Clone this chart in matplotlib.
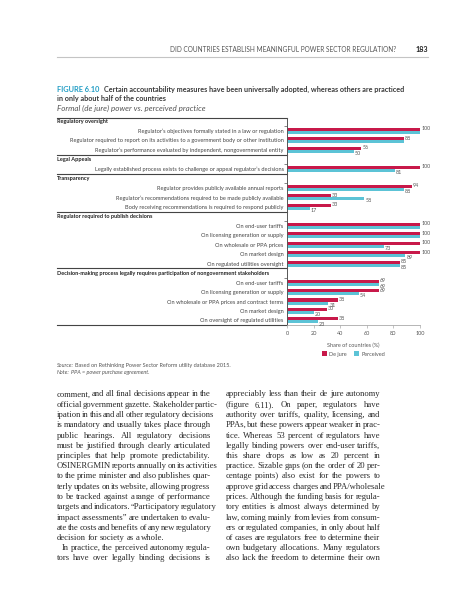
import numpy as np
import matplotlib
matplotlib.use("Agg")
import matplotlib.pyplot as plt
from matplotlib.transforms import blended_transform_factory

# data
group_names = [
    "Regulatory oversight",
    "Legal Appeals",
    "Transparency",
    "Regulator required to publish decisions",
    "Decision-making process legally requires participation of nongovernment stakeholders",
]
group_items = [
    ["Regulator’s objectives formally stated in a law or regulation",
     "Regulator required to report on its activities to a government body or other institution",
     "Regulator’s performance evaluated by independent, nongovernmental entity"],
    ["Legally established process exists to challenge or appeal regulator’s decisions"],
    ["Regulator provides publicly available annual reports",
     "Regulator’s recommendations required to be made publicly available",
     "Body receiving recommendations is required to respond publicly"],
    ["On end-user tariffs",
     "On licensing generation or supply",
     "On wholesale or PPA prices",
     "On market design",
     "On regulated utilities oversight"],
    ["On end-user tariffs",
     "On licensing generation or supply",
     "On wholesale or PPA prices and contract terms",
     "On market design",
     "On oversight of regulated utilities"],
]
de_jure = [100, 88, 56, 100, 94, 33, 33, 100, 100, 100, 100, 85, 69, 69, 38, 30, 38]
perceived = [100, 88, 50, 81, 88, 58, 17, 100, 100, 73, 89, 85, 69, 54, 31, 20, 23]
x_ticks = [0, 20, 40, 60, 80, 100]

left_col = [
    "comment, and all final decisions appear in the",
    "official government gazette. Stakeholder partic-",
    "ipation in this and all other regulatory decisions",
    "is mandatory and usually takes place through",
    "public hearings. All regulatory decisions",
    "must be justified through clearly articulated",
    "principles that help promote predictability.",
    "OSINERGMIN reports annually on its activities",
    "to the prime minister and also publishes quar-",
    "terly updates on its website, allowing progress",
    "to be tracked against a range of performance",
    "targets and indicators. “Participatory regulatory",
    "impact assessments” are undertaken to evalu-",
    "ate the costs and benefits of any new regulatory",
    "decision for society as a whole.",
    "In practice, the perceived autonomy regula-",
    "tors have over legally binding decisions is",
]
right_col = [
    "appreciably less than their de jure autonomy",
    "(figure 6.11). On paper, regulators have",
    "authority over tariffs, quality, licensing, and",
    "PPAs, but these powers appear weaker in prac-",
    "tice. Whereas 53 percent of regulators have",
    "legally binding powers over end-user tariffs,",
    "this share drops as low as 20 percent in",
    "practice. Sizable gaps (on the order of 20 per-",
    "centage points) also exist for the powers to",
    "approve grid access charges and PPA/wholesale",
    "prices. Although the funding basis for regula-",
    "tory entities is almost always determined by",
    "law, coming mainly from levies from consum-",
    "ers or regulated companies, in only about half",
    "of cases are regulators free to determine their",
    "own budgetary allocations. Many regulators",
    "also lack the freedom to determine their own",
]

RED = "#c8194a"
CYAN = "#5cc3d6"
TEAL = "#1f9cc4"
DARK = "#3a3a3a"
GREY = "#555555"
SANS = ["Lato", "DejaVu Sans"]
SERIF = ["Liberation Serif", "DejaVu Serif"]

W, H = 457, 600
fig = plt.figure(figsize=(W / 100, H / 100), dpi=100)
page = fig.add_axes([0, 0, 1, 1])
page.set_xlim(0, W)
page.set_ylim(H, 0)
page.axis("off")
renderer = fig.canvas.get_renderer()


def put(x, y, s, **kw):
    kw.setdefault("family", SANS)
    kw.setdefault("va", "baseline")
    return page.text(x, y, s, **kw)


def width(t):
    return t.get_window_extent(renderer).width


# running header
put(396, 52.3, "DID COUNTRIES ESTABLISH MEANINGFUL POWER SECTOR REGULATION?",
    fontsize=4.7, color=GREY, ha="right")
put(428, 52.5, "183", fontsize=5.2, color="#222", ha="right", fontweight="bold")
page.plot([57, 428], [56.7, 56.7], color="#c4c4c4", lw=0.8)

# figure title
put(57, 91.5, "FIGURE 6.10", fontsize=5.3, color=TEAL, fontweight="bold")
put(104.3, 91.5, "Certain accountability measures have been universally adopted, whereas others are practiced",
    fontsize=5.2, color=DARK, fontweight="bold")
put(57, 100.5, "in only about half of the countries", fontsize=5.2, color=DARK, fontweight="bold")
put(57, 110.7, "Formal (de jure) power vs. perceived practice", fontsize=5.8, color=GREY, style="italic")

# chart
slots, labels, header_slots = [], [], []
s = 0
for name, items in zip(group_names, group_items):
    header_slots.append(s)
    s += 1
    for it in items:
        slots.append(s)
        labels.append(it)
        s += 1
slots = np.array(slots)
y_top, y_bot = -0.37, s - 0.5

ax = fig.add_axes([287 / W, 1 - 325.2 / H, 133 / W, 207.2 / H])
bh = 0.32
ax.barh(slots - bh / 2, de_jure, height=bh, color=RED, label="De jure")
ax.barh(slots + bh / 2, perceived, height=bh, color=CYAN, label="Perceived")
ax.set_xlim(0, 100)
ax.set_ylim(y_bot, y_top)

for sp in ["top", "right"]:
    ax.spines[sp].set_visible(False)
ax.spines["left"].set_color(GREY)
ax.spines["left"].set_linewidth(0.7)
ax.spines["bottom"].set_color("#aaaaaa")
ax.spines["bottom"].set_linewidth(0.6)

ax.set_yticks(slots)
ax.set_yticklabels(labels, fontsize=4.1, color="#444", family=SANS)
ax.tick_params(axis="y", length=0, pad=2.5)
ax.set_yticks([h + 0.5 for h in header_slots], minor=True)
ax.tick_params(axis="y", which="minor", length=2, width=0.5, color=GREY)

ax.set_xticks(x_ticks)
ax.set_xticklabels([str(v) for v in x_ticks], fontsize=4.0, color=GREY, family=SANS)
ax.tick_params(axis="x", length=2, width=0.5, color="#aaaaaa", pad=2)
ax.set_xlabel("Share of countries (%)", fontsize=4.0, color=GREY, family=SANS, labelpad=5)

trans = blended_transform_factory(ax.transAxes, ax.transData)
x_left = (57 - 287) / 133
for h, name in zip(header_slots, group_names):
    yl = y_top if h == 0 else h - 0.5
    ax.plot([x_left, 0], [yl, yl], transform=trans, clip_on=False, color="#444", lw=0.8)
    ax.text(x_left, h, name, transform=trans, ha="left", va="center", fontsize=4.0,
            fontweight="bold", color="#222", family=SANS)
ax.plot([x_left, 0], [y_bot, y_bot], transform=trans, clip_on=False, color="#444", lw=0.8)

for y, d, p in zip(slots, de_jure, perceived):
    ax.text(d + 0.8, y - bh / 2 - 0.05, str(d), va="center", ha="left", fontsize=3.9,
            color=GREY, family=SANS)
    if not (p == d and d >= 88):
        ax.text(p + 0.8, y + bh / 2 + 0.22, str(p), va="center", ha="left", fontsize=3.9,
                color=GREY, family=SANS)

ax.legend(loc="center", bbox_to_anchor=(0.5, -0.139), ncol=2, frameon=False,
          prop={"family": SANS, "size": 4.0}, handlelength=0.9, handleheight=0.9,
          columnspacing=1.2, handletextpad=0.5, labelcolor=GREY)

# source and note
t = put(57, 366.8, "Source:", fontsize=4.0, color=GREY, style="italic")
put(57 + width(t) + 1.5, 366.8, "Based on Rethinking Power Sector Reform utility database 2015.",
    fontsize=4.0, color=GREY)
t = put(57, 373.8, "Note:", fontsize=4.0, color=GREY, style="italic")
put(57 + width(t) + 1.5, 373.8, "PPA = power purchase agreement.", fontsize=4.0, color=GREY,
    style="italic")


# body text, justified columns
def column(lines, x0, x1, y0, dy, loose=(), indent=()):
    for i, line in enumerate(lines):
        y = y0 + i * dy
        start = x0 + (5.5 if i in indent else 0)
        words = line.split(" ")
        ts = [put(0, y, w, fontsize=6.2, color="#2a2a2a", family=SERIF) for w in words]
        ws = [width(t) for t in ts]
        if i in loose or len(words) == 1:
            gap = 1.9
        else:
            gap = max((x1 - start - sum(ws)) / (len(words) - 1), 0.8)
        x = start
        for t, w in zip(ts, ws):
            t.set_x(x)
            x += w + gap


column(left_col, 56.7, 210.7, 396.5, 10.25, loose={14}, indent={15})
column(right_col, 225.5, 380.5, 396.5, 10.25)

fig.savefig("out.png", dpi=100)
